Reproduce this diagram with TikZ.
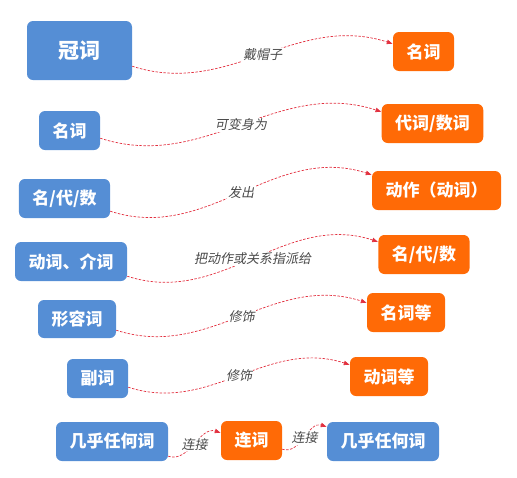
\documentclass[tikz,border=0pt]{standalone}
\usepackage{fontspec}
\setmainfont{Noto Sans CJK SC}
\newfontfamily\labfont[FakeSlant=0.2]{Noto Sans CJK SC}
\usetikzlibrary{arrows.meta}
\definecolor{wBlue}{HTML}{558ED5}
\definecolor{wOrange}{HTML}{FF6A06}
\definecolor{lRed}{HTML}{E2303F}
\definecolor{lGray}{HTML}{4A4A4A}
\tikzstyle{bS}=[rounded corners=6pt, fill=wBlue, text=white, inner xsep=13.5pt, inner ysep=0pt, minimum height=39pt, font=\bfseries\fontsize{17}{20}\selectfont]
\tikzstyle{oS}=[bS, fill=wOrange]
\tikzstyle{eS}=[draw=lRed, dash pattern=on 2.5pt off 1.5pt, line width=0.7pt, -{Latex[length=6pt,width=5pt]}, out=-18, in=162]
\tikzstyle{eT}=[fill=white, inner sep=1pt, text=lGray, font=\labfont\fontsize{13}{15}\selectfont]

\begin{document}
\begin{tikzpicture}[x=1pt,y=-1pt]
                \useasboundingbox (0,0) rectangle (517,477);
                \draw (79.5,50.5) node[bS, minimum width=105pt, minimum height=59pt, font=\bfseries\fontsize{21}{24}\selectfont] (b0) {冠词};
                \draw (423.5,51.5) node[oS] (o0) {名词};
                \draw (69.5,130.5) node[bS] (b1) {名词};
                \draw (432.5,123.5) node[oS] (o1) {代词/数词};
                \draw (64.5,198.5) node[bS] (b2) {名/代/数};
                \draw (436.5,190.5) node[oS] (o2) {动作（动词）};
                \draw (71,261.5) node[bS] (b3) {动词、介词};
                \draw (424,254.5) node[oS] (o3) {名/代/数};
                \draw (77,319) node[bS, minimum height=38pt] (b4) {形容词};
                \draw (406,312.5) node[oS] (o4) {名词等};
                \draw (97.5,378.5) node[bS] (b5) {副词};
                \draw (389,376.5) node[oS] (o5) {动词等};
                \draw (112,441.5) node[bS] (b6) {几乎任何词};
                \draw (251.5,440.5) node[oS] (o6) {连词};
                \draw (383,441.5) node[bS] (b7) {几乎任何词};
                \path
                    ([yshift=14pt]b0.south east) edge[eS] node[eT]{戴帽子} ([yshift=-12pt]o0.north west)
                    ([yshift=12pt]b1.south east) edge[eS] node[eT]{可变身为} ([yshift=-8pt]o1.north west)
                    ([yshift=7pt]b2.south east) edge[eS] node[eT]{发出} ([yshift=-4pt]o2.north west)
                    ([yshift=5pt]b3.south east) edge[eS] node[eT]{把动作或关系指派给} ([yshift=-7pt]o3.north west)
                    ([yshift=8pt]b4.south east) edge[eS] node[eT]{修饰} ([yshift=-10pt]o4.north west)
                    ([yshift=11pt]b5.south east) edge[eS] node[eT]{修饰} ([yshift=-8pt]o5.north west)
                    ([yshift=5pt]b6.south east) edge[eS] node[eT]{连接} ([yshift=-12pt]o6.north west)
                    ([yshift=11pt]o6.south east) edge[eS] node[eT]{连接} ([yshift=-5pt]b7.north west)
                ;
        \end{tikzpicture}
\end{document}
